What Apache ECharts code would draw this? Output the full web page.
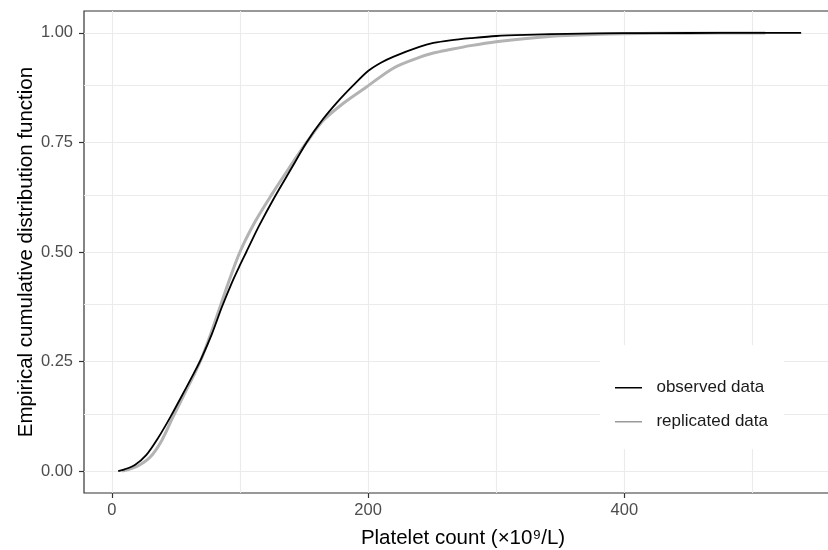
<!DOCTYPE html>
<html>
<head>
<meta charset="utf-8">
<script src="https://cdn.jsdelivr.net/npm/echarts@6/dist/echarts.min.js"></script>
<style>html,body{margin:0;padding:0;background:#fff}#c{width:828px;height:550px}</style>
</head>
<body>
<div id="c"></div>
<script>
// ---- data ----
const observedValue = [5, 10, 18, 27, 36, 46, 58, 64, 70, 78, 86, 94, 100, 105, 115, 127, 140, 152, 164, 176, 188, 200, 210, 220, 240, 251, 264, 280, 300, 330, 355, 400, 450, 500, 538];
const observedECDF  = [0, 0.004, 0.014, 0.037, 0.075, 0.125, 0.19, 0.223, 0.258, 0.312, 0.375, 0.432, 0.47, 0.5, 0.56, 0.625, 0.69, 0.75, 0.80, 0.842, 0.879, 0.913, 0.932, 0.946, 0.968, 0.977, 0.983, 0.988, 0.993, 0.996, 0.998, 0.9995, 0.9998, 0.9999, 1];
const replicatedValue = [8, 12, 20, 30, 39, 47.5, 59, 65, 70, 76, 83, 91, 100, 112, 125, 138, 152, 165, 181, 198, 220, 240, 251, 264, 280, 300, 330, 355, 400, 450, 510];
const replicatedECDF  = [0, 0.003, 0.011, 0.032, 0.07, 0.122, 0.19, 0.225, 0.257, 0.303, 0.362, 0.43, 0.5, 0.57, 0.632, 0.69, 0.75, 0.80, 0.84, 0.875, 0.92, 0.944, 0.954, 0.962, 0.971, 0.98, 0.989, 0.994, 0.998, 0.9995, 1];
const xTickLabels = [0, 200, 400];
const xGridValues = [0, 100, 200, 300, 400, 500];
const yTickLabels = [0, 0.25, 0.5, 0.75, 1];
const yGridValues = [0, 0.125, 0.25, 0.375, 0.5, 0.625, 0.75, 0.875, 1];
const seriesNames = ['observed data', 'replicated data'];

const FONT = "'Liberation Sans', Arial, Helvetica, sans-serif";
const zip = (a, b) => a.map((v, i) => [v, b[i]]);
// thin horizontal bar inside a 27x14 box (legend key drawn as a line segment)
const KEY_ICON = 'path://M0,0L0.01,0L0.01,0.01Z M0,6.5L27,6.5L27,8L0,8Z M27,14L26.99,14L26.99,13.99Z';

const chart = echarts.init(document.getElementById('c'), null, {renderer: 'canvas'});
chart.setOption({
  animation: false,
  backgroundColor: '#ffffff',
  grid: {
    left: 84, top: 11, width: 758, height: 482,
    show: true, borderColor: '#333333', borderWidth: 1.2, backgroundColor: '#ffffff',
    containLabel: false, outerBoundsMode: 'none'
  },
  xAxis: {
    type: 'value', min: -21.7, max: 569.9,
    name: 'Platelet count (×10⁹/L)', nameLocation: 'middle', nameGap: 35, nameMoveOverlap: false,
    nameTextStyle: {fontSize: 20.5, color: '#000', fontFamily: FONT},
    axisLine: {show: false, onZero: false},
    axisTick: {show: true, customValues: xTickLabels, length: 5, lineStyle: {color: '#333', width: 1.2}},
    axisLabel: {customValues: xTickLabels, fontSize: 16.5, color: '#4d4d4d', fontFamily: FONT, margin: 9},
    splitLine: {show: false}
  },
  yAxis: {
    type: 'value', min: -0.05, max: 1.05,
    name: 'Empirical cumulative distribution function', nameLocation: 'middle', nameGap: 47, nameMoveOverlap: false,
    nameTextStyle: {fontSize: 20.5, color: '#000', fontFamily: FONT},
    axisLine: {show: false, onZero: false},
    axisTick: {show: true, customValues: yTickLabels, length: 5, lineStyle: {color: '#333', width: 1.2}},
    axisLabel: {customValues: yTickLabels, fontSize: 16.5, color: '#4d4d4d', fontFamily: FONT, margin: 11,
      formatter: v => v.toFixed(2)},
    splitLine: {show: false}
  },
  legend: {
    orient: 'vertical', left: 600, top: 345,
    backgroundColor: '#ffffff',
    padding: [34, 16, 19, 15],
    itemWidth: 27, itemHeight: 14, itemGap: 17,
    textStyle: {fontSize: 17, color: '#1a1a1a', fontFamily: FONT},
    formatter: name => '  ' + name,
    data: [
      {name: seriesNames[0], icon: KEY_ICON, itemStyle: {color: '#000000'}},
      {name: seriesNames[1], icon: KEY_ICON, itemStyle: {color: '#9a9a9a'}}
    ]
  },
  series: [
    {
      name: seriesNames[1], type: 'line', z: 3,
      data: zip(replicatedValue, replicatedECDF),
      showSymbol: false, symbol: 'none', smooth: 0.3,
      itemStyle: {color: '#9a9a9a'},
      lineStyle: {color: '#b3b3b3', width: 3}
    },
    {
      name: seriesNames[0], type: 'line', z: 4,
      data: zip(observedValue, observedECDF),
      showSymbol: false, symbol: 'none', smooth: 0.3,
      itemStyle: {color: '#000'},
      lineStyle: {color: '#000000', width: 1.8},
      markLine: {
        z: 1, silent: true, symbol: ['none', 'none'], animation: false,
        label: {show: false},
        lineStyle: {color: '#ebebeb', width: 1.1, type: 'solid'},
        emphasis: {disabled: true},
        data: xGridValues.map(v => ({xAxis: v})).concat(yGridValues.map(v => ({yAxis: v})))
      }
    }
  ]
});
</script>
</body>
</html>
